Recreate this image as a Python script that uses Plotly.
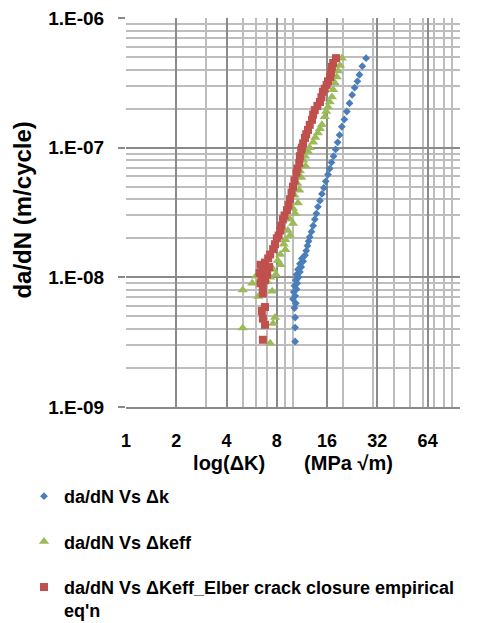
import plotly.graph_objects as go

# ---------------- data ----------------
blue_x = [10.3, 10.3, 10.3, 10.2, 10.4, 10.0, 10.3, 10.1, 10.5, 10.2, 10.6, 10.4, 10.8, 10.5, 11.0,
          10.7, 11.2, 11.0, 11.5, 11.3, 11.8, 12.0, 12.2, 12.4, 12.6, 12.9, 13.2, 13.5, 13.8, 14.1,
          14.5, 14.9, 15.3, 15.7, 16.2, 16.6, 17.0, 17.5, 18.0, 18.5, 19.0, 19.6, 20.3, 21.0, 21.8,
          22.6, 23.4, 24.3, 25.0, 26.0, 27.4]
blue_y = [3.2e-9, 4.1e-9, 4.9e-9, 5.8e-9, 6.3e-9, 6.8e-9, 7.2e-9, 7.7e-9, 8.1e-9, 8.6e-9, 9.0e-9,
          9.5e-9, 1.0e-8, 1.05e-8, 1.1e-8, 1.15e-8, 1.2e-8, 1.27e-8, 1.33e-8, 1.4e-8, 1.48e-8, 1.6e-8,
          1.75e-8, 1.9e-8, 2.05e-8, 2.25e-8, 2.5e-8, 2.8e-8, 3.1e-8, 3.5e-8, 3.9e-8, 4.4e-8, 4.9e-8,
          5.5e-8, 6.2e-8, 6.9e-8, 7.7e-8, 8.6e-8, 9.7e-8, 1.1e-7, 1.25e-7, 1.45e-7, 1.65e-7, 1.9e-7,
          2.2e-7, 2.55e-7, 2.9e-7, 3.25e-7, 3.65e-7, 4.25e-7, 4.9e-7]

green_x = [19.6, 19.1, 18.6, 18.3, 17.8, 17.4, 17.1, 16.6, 16.2, 15.8, 15.5, 14.9, 14.5, 14.1, 13.6,
           13.2, 12.6, 12.3, 11.8, 11.5, 11.9, 11.0, 11.2, 10.6, 10.9, 10.2, 10.7, 10.0, 10.3, 9.6,
           10.0, 9.3, 9.6, 9.0, 8.8, 9.0, 8.4, 8.1, 8.4, 7.6, 7.9, 7.3, 6.5, 6.0, 6.3, 5.7, 7.0, 5.0,
           6.2, 7.5, 6.6, 7.8, 7.6, 5.0, 7.3]
green_y = [4.9e-7, 4.3e-7, 3.9e-7, 3.5e-7, 3.15e-7, 2.8e-7, 2.46e-7, 2.25e-7, 2.06e-7, 1.9e-7, 1.73e-7,
           1.5e-7, 1.4e-7, 1.3e-7, 1.2e-7, 1.1e-7, 1.0e-7, 9.3e-8, 8.6e-8, 8.0e-8, 7.2e-8, 6.6e-8,
           5.9e-8, 5.3e-8, 4.7e-8, 4.3e-8, 3.75e-8, 3.4e-8, 3.1e-8, 2.8e-8, 2.6e-8, 2.3e-8, 2.1e-8,
           1.95e-8, 1.8e-8, 1.63e-8, 1.5e-8, 1.35e-8, 1.25e-8, 1.15e-8, 1.05e-8, 1.0e-8, 9.8e-9,
           1.02e-8, 9.2e-9, 9.0e-9, 9.3e-9, 8.0e-9, 7.1e-9, 7.8e-9, 5.9e-9, 4.9e-9, 4.4e-9, 4.07e-9,
           3.1e-9]

red_x = [18.1, 17.4, 17.1, 16.9, 16.7, 16.2, 15.9, 15.5, 15.1, 14.8, 14.5, 14.0, 13.5, 13.2, 13.0,
         12.6, 12.3, 12.0, 11.8, 11.5, 11.3, 11.2, 11.0, 10.9, 10.6, 10.5, 10.2, 10.0, 9.8, 9.6, 9.4,
         9.2, 8.9, 8.7, 8.5, 8.4, 8.2, 8.0, 7.8, 7.6, 7.3, 7.1, 6.8, 6.4, 7.2, 6.6, 6.3, 7.0, 6.5,
         6.8, 6.4, 6.6, 6.6, 6.8, 6.5, 6.6, 6.8, 6.6]
red_y = [4.9e-7, 4.5e-7, 4.2e-7, 3.8e-7, 3.5e-7, 3.25e-7, 3.05e-7, 2.85e-7, 2.7e-7, 2.45e-7, 2.25e-7,
         2.1e-7, 1.95e-7, 1.8e-7, 1.64e-7, 1.5e-7, 1.37e-7, 1.27e-7, 1.19e-7, 1.08e-7, 1.0e-7, 9.6e-8,
         8.6e-8, 7.6e-8, 6.9e-8, 6.4e-8, 5.6e-8, 5.0e-8, 4.5e-8, 4.0e-8, 3.6e-8, 3.3e-8, 3.0e-8,
         2.8e-8, 2.5e-8, 2.3e-8, 2.1e-8, 2.0e-8, 1.8e-8, 1.65e-8, 1.5e-8, 1.4e-8, 1.3e-8, 1.25e-8,
         1.2e-8, 1.15e-8, 1.08e-8, 1.05e-8, 1.0e-8, 9.5e-9, 9.0e-9, 8.3e-9, 7.5e-9, 5.9e-9, 5.5e-9,
         4.8e-9, 4.3e-9, 3.3e-9]

x_tickvals = [1, 2, 4, 8, 16, 32, 64]
x_ticktext = ["1", "2", "4", "8", "16", "32", "64"]
y_tickvals = [1e-9, 1e-8, 1e-7, 1e-6]
y_ticktext = ["1.E-09", "1.E-08", "1.E-07", "1.E-06"]

names = ["da/dN Vs \u0394k",
         "da/dN Vs \u0394keff",
         "da/dN Vs \u0394Keff_Elber crack closure empirical<br>eq'n"]
x_title = "log(\u0394K)" + "\u00a0" * 7 + "(MPa \u221am)"
y_title = "da/dN (m/cycle)"

FONT = "Arial, Liberation Sans, sans-serif"
MAJOR = "#8a8a8a"
MINOR = "#bdbdbd"
W, H = 470, 615   # page body has an 8px offset

fig = go.Figure()
fig.add_trace(go.Scatter(x=blue_x, y=blue_y, mode="markers", name=names[0], legendgroup="a",
                         marker=dict(symbol="diamond", size=6, color="#4a7ebb")))
fig.add_trace(go.Scatter(x=green_x, y=green_y, mode="markers", name=names[1], legendgroup="b",
                         marker=dict(symbol="triangle-up", size=9, color="#9bbb59")))
fig.add_trace(go.Scatter(x=red_x, y=red_y, mode="markers", name=names[2], legendgroup="c",
                         marker=dict(symbol="square", size=8, color="#c0504d")))

fig.update_layout(
    width=W, height=H,
    margin=dict(l=118, r=18, t=10, b=216, autoexpand=False),
    paper_bgcolor="white", plot_bgcolor="white",
    font=dict(family=FONT, color="black"),
    showlegend=True,
    legend=dict(xref="container", yref="container", x=16 / W, y=1 - 470 / H,
                xanchor="left", yanchor="top", traceorder="grouped", tracegroupgap=19,
                valign="top",
                font=dict(family=FONT, size=18, weight="bold", color="black"),
                bgcolor="rgba(0,0,0,0)"),
    xaxis=dict(type="log", range=[0, 2], automargin=False,
               tickmode="array", tickvals=x_tickvals, ticktext=x_ticktext,
               tickfont=dict(family=FONT, size=18, weight="bold", color="black"),
               ticks="", ticklabelstandoff=16, ticklabeloverflow="allow",
               showgrid=True, gridcolor=MAJOR, gridwidth=2,
               minor=dict(dtick="D1", showgrid=True, gridcolor=MINOR, gridwidth=2, ticks=""),
               showline=True, linecolor=MAJOR, linewidth=2,
               zeroline=False,
               title=dict(text=x_title,
                          font=dict(family=FONT, size=20, weight="bold", color="black"),
                          standoff=6)),
    yaxis=dict(type="log", range=[-9, -6], automargin=False,
               tickmode="array", tickvals=y_tickvals, ticktext=y_ticktext,
               tickfont=dict(family=FONT, size=19, weight="bold", color="black"),
               ticks="outside", ticklen=7, tickcolor=MAJOR, tickwidth=2,
               ticklabelstandoff=10, ticklabeloverflow="allow",
               showgrid=True, gridcolor=MAJOR, gridwidth=1.5,
               minor=dict(dtick="D1", showgrid=True, gridcolor=MINOR, gridwidth=1.5, ticks=""),
               showline=False, zeroline=False),
    annotations=[dict(text=y_title, textangle=-90, xref="paper", yref="paper",
                      x=(15 - 118) / 334, y=0.505, xanchor="center", yanchor="middle",
                      showarrow=False,
                      font=dict(family=FONT, size=24, weight="bold", color="black"))],
)

fig.write_html("out.html")
